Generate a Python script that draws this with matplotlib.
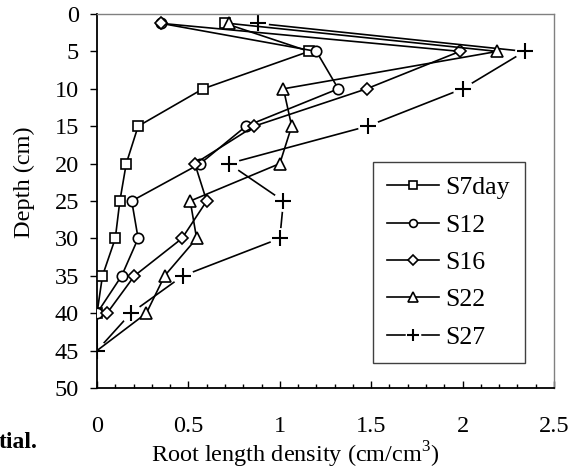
import matplotlib
matplotlib.use('Agg')
import matplotlib.pyplot as plt
import numpy as np

plt.rcParams['font.family'] = ['Liberation Serif', 'DejaVu Serif']
plt.rcParams['mathtext.fontset'] = 'custom'
plt.rcParams['mathtext.rm'] = 'Liberation Serif'

# depth (cm) of each sample and root length density (cm/cm3) per sowing
depth = [1.25, 5, 10, 15, 20, 25, 30, 35, 40, 45]
s7day = [0.70, 1.16, 0.58, 0.225, 0.16, 0.125, 0.10, 0.03, 0.0, 0.0]
s12 = [0.35, 1.20, 1.32, 0.815, 0.565, 0.19, 0.225, 0.135, 0.0, 0.0]
s16 = [0.35, 1.985, 1.475, 0.86, 0.535, 0.60, 0.465, 0.205, 0.055]
s22 = [0.72, 2.19, 1.02, 1.065, 1.00, 0.51, 0.545, 0.37, 0.27, 0.0]
s27 = [0.88, 2.34, 2.0, 1.48, 0.72, 1.02, 1.0, 0.47, 0.185, 0.0]

fig = plt.figure(figsize=(5.79, 4.70), dpi=100)
ax = fig.add_axes([97/579, 1-388/470, 457/579, 374/470])

mk = dict(color='k', lw=1.2, mfc='white', mec='k', mew=1.2, zorder=3)
h7, = ax.plot(s7day, depth, marker='s', ms=7.5, markevery=list(range(9)), **mk)
h12, = ax.plot(s12, depth, marker='o', ms=7.5, markevery=list(range(9)), **mk)
h16, = ax.plot(s16, depth[:9], marker='D', ms=6.5, **mk)
h22, = ax.plot(s22, depth, marker='^', ms=9, markevery=list(range(9)), **mk)

# S27 line is broken around its markers
l27, = ax.plot(s27, depth, color='k', lw=1.2, zorder=1.5)
w27, = ax.plot(s27, depth, ls='none', marker='o', ms=15, mfc='white', mec='none', zorder=1.6)
p27, = ax.plot(s27, depth, ls='none', marker='+', ms=11, mec='k', mew=1.5, zorder=1.7)

ax.set_xlim(0, 2.5)
ax.set_ylim(50, 0)
ax.set_xticks(np.arange(0, 2.51, 0.5))
ax.set_xticklabels(['0', '0.5', '1', '1.5', '2', '2.5'])
ax.set_xticks(np.arange(0, 2.51, 0.1), minor=True)
ax.set_yticks(np.arange(0, 51, 5))
ax.tick_params(axis='x', which='major', direction='in', length=5, width=1, pad=20, labelsize=17.5)
ax.tick_params(axis='x', which='minor', direction='in', length=3, width=1)
ax.tick_params(axis='y', direction='out', length=5, width=1, pad=8, labelsize=17.5)

for s in ['left', 'bottom']:
    ax.spines[s].set_color('k')
    ax.spines[s].set_linewidth(1.3)
for s in ['top', 'right']:
    ax.spines[s].set_color('#808080')
    ax.spines[s].set_linewidth(1.0)

leg = ax.legend([h7, h12, h16, h22, (l27, w27, p27)],
                ['S7day', 'S12', 'S16', 'S22', 'S27'],
                loc='upper left', bbox_to_anchor=(0.604, 0.604, 0.333, 0.0),
                mode='expand', borderaxespad=0, fontsize=18.5, frameon=True,
                fancybox=False, framealpha=1, edgecolor='#404040',
                handlelength=2.0, handletextpad=0.25, labelspacing=0.56,
                borderpad=0.55, markerscale=0.75, numpoints=1)
leg.get_frame().set_linewidth(1.0)

fig.text(295/579, 1-455/470, 'Root length density (cm/cm$^{3}$)', ha='center', va='center', fontsize=17.5)
fig.text(24/579, 1-182/470, 'Depth (cm)', ha='center', va='center', rotation=90, fontsize=17.5)
fig.text(-1/579, 1-443/470, 'tial.', ha='left', va='center', fontsize=17, fontweight='bold')

fig.savefig('out.png', dpi=100)
